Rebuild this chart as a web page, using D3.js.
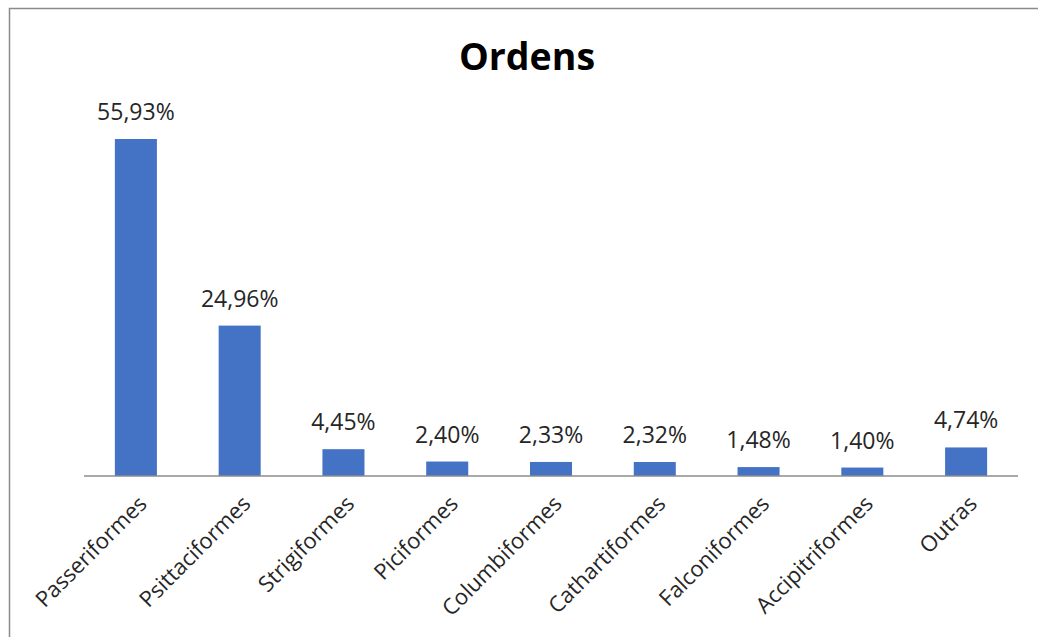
<!DOCTYPE html>
<html><head><meta charset="utf-8">
<script src="https://cdn.jsdelivr.net/npm/d3@7"></script>
<style>body{margin:0;background:#fff;} svg{display:block;}</style>
</head><body>
<svg id="c" width="1038" height="637"></svg>
<script>
const categories = ["Passeriformes","Psittaciformes","Strigiformes","Piciformes","Columbiformes","Cathartiformes","Falconiformes","Accipitriformes","Outras"];
const values = [55.93,24.96,4.45,2.40,2.33,2.32,1.48,1.40,4.74];
const valueLabels = ["55,93%","24,96%","4,45%","2,40%","2,33%","2,32%","1,48%","1,40%","4,74%"];
const title = "Ordens";

const svg = d3.select("#c");
const font = "'Open Sans', 'Liberation Sans', sans-serif";
svg.append("rect").attr("x",9.5).attr("y",8.5).attr("width",1100).attr("height",700)
  .attr("fill","#fff").attr("stroke","#8a8a8a").attr("stroke-width",1.5);

const x = d3.scaleBand().domain(categories).range([84,1018]).paddingInner(0.595).paddingOuter(0.2975);
const baseY = 476;
const y = d3.scaleLinear().domain([0,55.93]).range([baseY,139]);

svg.append("text").attr("x",527).attr("y",70).attr("text-anchor","middle")
  .attr("font-family",font).attr("font-weight","bold").attr("font-size",37.5).attr("fill","#000").text(title);

svg.selectAll("rect.bar").data(values).join("rect").attr("class","bar")
  .attr("x",(d,i)=>x(categories[i])).attr("width",x.bandwidth())
  .attr("y",d=>y(d)).attr("height",d=>baseY-y(d)).attr("fill","#4472C4");

svg.append("line").attr("x1",84).attr("x2",1018).attr("y1",baseY).attr("y2",baseY)
  .attr("stroke","#8c8c8c").attr("stroke-width",1.5);

svg.selectAll("text.val").data(values).join("text").attr("class","val")
  .attr("x",(d,i)=>x(categories[i])+x.bandwidth()/2).attr("y",d=>y(d)-19)
  .attr("text-anchor","middle").attr("font-family",font).attr("font-size",23).attr("fill","#262626")
  .text((d,i)=>valueLabels[i]);

svg.selectAll("text.cat").data(categories).join("text").attr("class","cat")
  .attr("transform",d=>`translate(${x(d)+x.bandwidth()/2+1},${baseY+18}) rotate(-45)`)
  .attr("text-anchor","end").attr("dy","0.72em").attr("font-family",font).attr("font-size",22).attr("fill","#262626")
  .text(d=>d);
</script>
</body></html>
